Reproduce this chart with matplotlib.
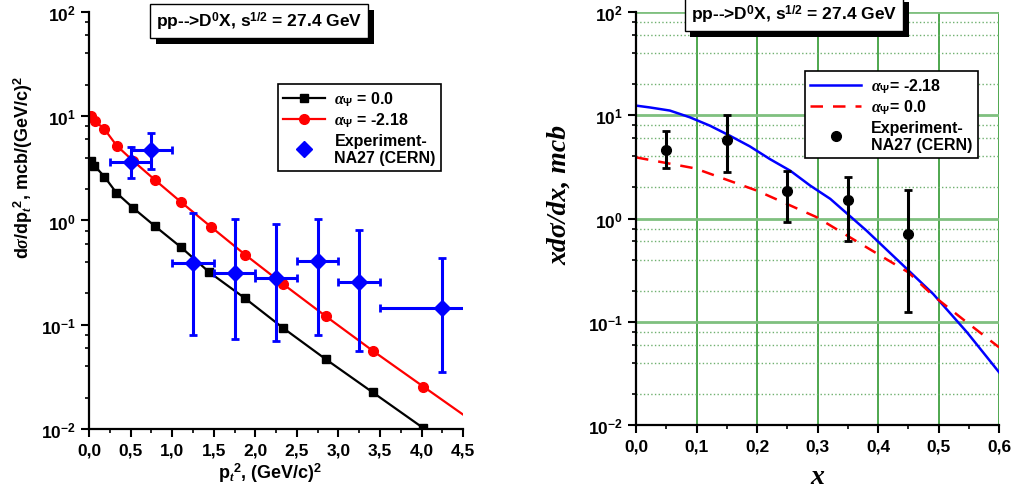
import numpy as np
import matplotlib
matplotlib.use("Agg")
import matplotlib.pyplot as plt
from matplotlib import patheffects
from matplotlib.lines import Line2D
from matplotlib.ticker import FuncFormatter, LogLocator, MultipleLocator, NullFormatter

plt.rcParams['font.family'] = ['Liberation Sans', 'DejaVu Sans']
plt.rcParams['font.weight'] = 'bold'
plt.rcParams['mathtext.fontset'] = 'custom'
plt.rcParams['mathtext.rm'] = 'Liberation Sans:bold'
plt.rcParams['mathtext.bf'] = 'Liberation Sans:bold'
plt.rcParams['mathtext.it'] = 'Liberation Serif:italic'
plt.rcParams['mathtext.sf'] = 'Liberation Sans:bold'

# left panel: d sigma / d pt^2
pt2_black = [0.02, 0.064, 0.184, 0.33, 0.535, 0.795, 1.107, 1.448, 1.877, 2.338, 2.848, 3.41, 4.02]
sig_black = [3.75, 3.36, 2.64, 1.84, 1.31, 0.88, 0.553, 0.318, 0.179, 0.0925, 0.0466, 0.0225, 0.0102]

pt2_red = [0.02, 0.072, 0.184, 0.333, 0.535, 0.798, 1.107, 1.468, 1.877, 2.338, 2.848, 3.41, 4.02]
sig_red = [10.0, 8.96, 7.55, 5.22, 3.70, 2.43, 1.50, 0.867, 0.47, 0.244, 0.1205, 0.0564, 0.0255]
red_tail_x = [4.02, 4.5]
red_tail_y = [0.0255, 0.0137]

pt2_exp = [0.5, 0.75, 1.25, 1.75, 2.25, 2.75, 3.25, 4.25]
pt2_exp_err = [0.25, 0.25, 0.25, 0.25, 0.25, 0.25, 0.25, 0.75]
sig_exp = [3.61, 4.78, 0.388, 0.316, 0.283, 0.406, 0.255, 0.145]
sig_exp_hi = [5.1, 6.9, 1.18, 1.03, 0.925, 1.03, 0.81, 0.434]
sig_exp_lo = [2.54, 3.12, 0.0797, 0.0735, 0.0698, 0.0803, 0.0556, 0.035]

# right panel: x d sigma / dx
x_blue = [0.0, 0.023, 0.056, 0.089, 0.122, 0.155, 0.188, 0.221, 0.255, 0.288, 0.321,
          0.381, 0.436, 0.491, 0.547, 0.6]
y_blue = [12.4, 11.9, 11.1, 9.55, 7.93, 6.34, 5.0, 3.77, 2.9, 2.08, 1.55,
          0.762, 0.377, 0.186, 0.079, 0.0324]
x_red = [0.0, 0.0975, 0.2, 0.2985, 0.381, 0.45, 0.491, 0.54, 0.6]
y_red = [3.91, 3.06, 1.86, 1.03, 0.526, 0.301, 0.179, 0.106, 0.0565]

x_exp = [0.05, 0.15, 0.25, 0.35, 0.45]
y_exp = [4.64, 5.72, 1.83, 1.5, 0.703]
y_exp_hi = [6.99, 10.0, 2.9, 2.5, 1.89]
y_exp_lo = [3.06, 2.8, 0.92, 0.6, 0.125]

title_text = r"pp-->D$^0$X, s$^{1/2}$ = 27.4 GeV"


def comma_fmt(v, pos):
    return f"{v:.1f}".replace('.', ',')


def shadow_box(ax, x, y, text):
    # Origin-style label box with a black drop shadow
    t = ax.text(x, y, text, transform=ax.transAxes, ha='center', va='center', fontsize=12.5,
                fontweight='bold', color='black',
                bbox=dict(boxstyle='square,pad=0.35', fc='white', ec='black', lw=1), zorder=10)
    t.get_bbox_patch().set_path_effects([
        patheffects.SimplePatchShadow(offset=(4, -4), shadow_rgbFace='black', alpha=1),
        patheffects.Normal()])


def style_axes(ax):
    for s in ['top', 'right']:
        ax.spines[s].set_visible(False)
    for s in ['left', 'bottom']:
        ax.spines[s].set_linewidth(1.6)
    ax.set_yscale('log')
    ax.yaxis.set_major_locator(LogLocator(base=10, numticks=10))
    ax.yaxis.set_minor_locator(LogLocator(base=10, subs=(2, 4, 6, 8), numticks=10))
    ax.yaxis.set_minor_formatter(NullFormatter())
    ax.xaxis.set_major_formatter(FuncFormatter(comma_fmt))
    ax.tick_params(which='major', length=6, width=1.5, labelsize=12.5)
    ax.tick_params(which='minor', length=3, width=1.2)
    for lab in ax.get_xticklabels() + ax.get_yticklabels():
        lab.set_fontweight('bold')


def make_legend(ax, handles, labels, anchor, hlen):
    leg = ax.legend(handles, labels, loc='upper right', bbox_to_anchor=anchor, fancybox=False,
                    edgecolor='black', framealpha=1, fontsize=11.5, handlelength=hlen,
                    borderpad=0.35, labelspacing=0.2, handletextpad=0.6)
    leg.get_frame().set_linewidth(1.2)
    for t in leg.get_texts():
        t.set_fontweight('bold')
    return leg


fig = plt.figure(figsize=(10.17, 4.89), dpi=100)
ax1 = fig.add_axes([0.0875, 0.1207, 0.368, 0.8528])
ax2 = fig.add_axes([0.6254, 0.1288, 0.357, 0.8446])

# ---- left panel
style_axes(ax1)
ax1.plot(pt2_black, sig_black, '-s', color='black', lw=1.6, ms=6)
ax1.plot(red_tail_x, red_tail_y, '-', color='red', lw=1.6)
ax1.plot(pt2_red, sig_red, '-o', color='red', lw=1.6, ms=7)
yerr1 = [np.array(sig_exp) - np.array(sig_exp_lo), np.array(sig_exp_hi) - np.array(sig_exp)]
ax1.errorbar(pt2_exp, sig_exp, xerr=pt2_exp_err, yerr=yerr1, fmt='D', color='#0000ff',
             ms=8, elinewidth=2.2, capsize=3, capthick=2, zorder=5)
ax1.set_xlim(0, 4.5)
ax1.set_ylim(1e-2, 1e2)
ax1.xaxis.set_major_locator(MultipleLocator(0.5))
ax1.xaxis.set_minor_locator(MultipleLocator(0.25))
ax1.set_xlabel(r"p$_t$$^2$, (GeV/c)$^2$", fontsize=13, fontweight='bold')
ax1.set_ylabel(r"d$\sigma$/dp$_t$$^2$, mcb/(GeV/c)$^2$", fontsize=13, fontweight='bold')
ax1.yaxis.set_label_coords(-0.145, 0.63)
ax1.xaxis.set_label_coords(0.484, -0.075)
h1 = [Line2D([], [], color='black', marker='s', lw=1.6, ms=6),
      Line2D([], [], color='red', marker='o', lw=1.6, ms=7),
      Line2D([], [], color='#0000ff', marker='D', ls='none', ms=8)]
make_legend(ax1, h1, [r"$\alpha_{\Psi}$ = 0.0", r"$\alpha_{\Psi}$ = -2.18",
                      "Experiment-\nNA27 (CERN)"], (0.963, 0.847), 2.6)
shadow_box(ax1, 0.455, 0.978, title_text)

# ---- right panel
style_axes(ax2)
ax2.grid(True, which='major', axis='x', color='#1e901e', lw=1.1)
ax2.grid(True, which='major', axis='y', color='#7fc07f', lw=2)
ax2.grid(True, which='minor', axis='y', color='#6fb06f', lw=1, ls=':')
ax2.set_axisbelow(True)
ax2.plot(x_blue, y_blue, '-', color='#0000ff', lw=1.8)
ax2.plot(x_red, y_red, '--', color='red', lw=1.8, dashes=(5, 4))
yerr2 = [np.array(y_exp) - np.array(y_exp_lo), np.array(y_exp_hi) - np.array(y_exp)]
ax2.errorbar(x_exp, y_exp, yerr=yerr2, fmt='o', color='black', ms=7, elinewidth=2.2,
             capsize=3, capthick=2, zorder=5)
ax2.set_xlim(0, 0.6)
ax2.set_ylim(1e-2, 1e2)
ax2.xaxis.set_major_locator(MultipleLocator(0.1))
ax2.xaxis.set_minor_locator(MultipleLocator(0.05))
ax2.set_xlabel("x", fontsize=20, family='Liberation Serif', style='italic', fontweight='bold')
ax2.set_ylabel("xdσ/dx, mcb", fontsize=20, family='Liberation Serif', style='italic',
               fontweight='bold')
ax2.yaxis.set_label_coords(-0.175, 0.56)
ax2.xaxis.set_label_coords(0.5, -0.095)
h2 = [Line2D([], [], color='#0000ff', lw=1.8),
      Line2D([], [], color='red', lw=1.8, dashes=(5, 4)),
      Line2D([], [], color='black', marker='o', ls='none', ms=7)]
make_legend(ax2, h2, [r"$\alpha_{\Psi}$= -2.18", r"$\alpha_{\Psi}$= 0.0",
                      "Experiment-\nNA27 (CERN)"], (0.964, 0.877), 3.2)
shadow_box(ax2, 0.435, 0.995, title_text)

fig.savefig("out.png", dpi=100)
